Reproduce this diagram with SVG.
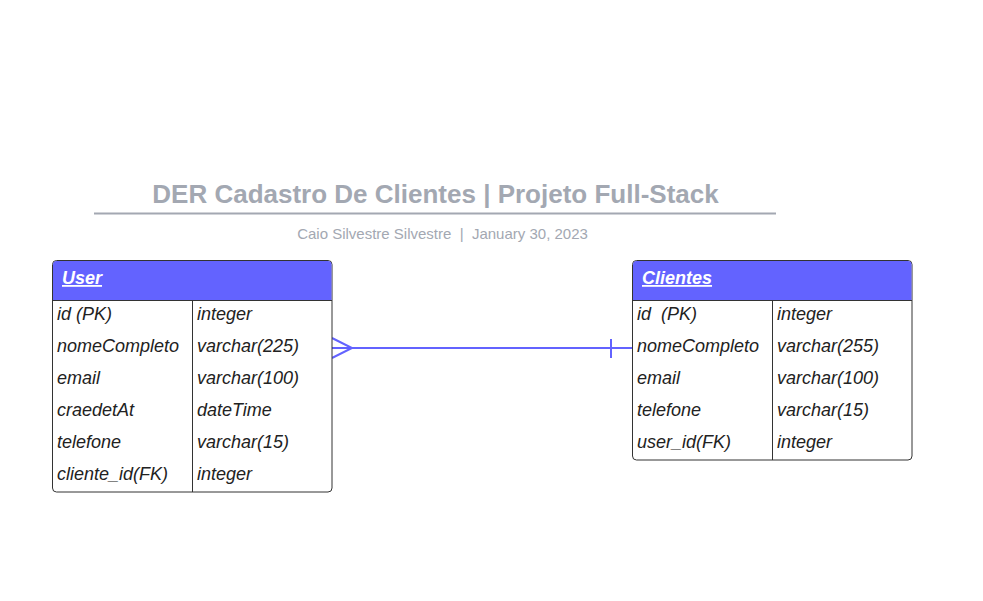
<svg xmlns="http://www.w3.org/2000/svg" width="983" height="601" viewBox="0 0 983 601">
<style>
.t{font-family:"Liberation Sans",Arial,sans-serif;font-style:italic;font-size:18px;fill:#222}
.h{font-family:"Liberation Sans",Arial,sans-serif;font-style:italic;font-weight:bold;font-size:18px;fill:#fff;text-decoration:underline}
.box{fill:#fff;stroke:#333;stroke-width:1}
.hd{fill:#6363ff}
.ln{stroke:#333;stroke-width:1}
.c{stroke:#6363ff;stroke-width:2;fill:none}
</style>
<rect width="983" height="601" fill="#fff"/>
<g id="title">
<text x="435.5" y="203" text-anchor="middle" font-family="Liberation Sans,Arial,sans-serif" font-weight="bold" font-size="26" fill="#a3a8b2">DER Cadastro De Clientes | Projeto Full-Stack</text>
<line x1="94" y1="213.5" x2="776" y2="213.5" stroke="#a3a8b2" stroke-width="2"/>
<text x="442.5" y="239" text-anchor="middle" font-family="Liberation Sans,Arial,sans-serif" font-size="15" fill="#a3a8b2" xml:space="preserve">Caio Silvestre Silvestre  |  January 30, 2023</text>
</g>
<g id="connectors">
<line class="c" x1="332" y1="348" x2="632" y2="348"/>
<polyline class="c" points="332,338 352,348 332,358"/>
<line class="c" x1="611" y1="339" x2="611" y2="358"/>
</g>
<g id="user">
<rect class="box" x="52.5" y="260.5" width="279.5" height="231.5" rx="4"/>
<path class="hd" d="M56.5,261 H328 Q331.5,261 331.5,264.5 V300 H53 V264.5 Q53,261 56.5,261 Z"/>
<line class="ln" x1="52.5" y1="300.5" x2="332" y2="300.5"/>
<line class="ln" x1="192.5" y1="300.5" x2="192.5" y2="492"/>
<text class="h" x="62" y="284">User</text>
<text class="t" x="57" y="320">id (PK)</text><text class="t" x="197" y="320">integer</text>
<text class="t" x="57" y="352">nomeCompleto</text><text class="t" x="197" y="352">varchar(225)</text>
<text class="t" x="57" y="384">email</text><text class="t" x="197" y="384">varchar(100)</text>
<text class="t" x="57" y="416">craedetAt</text><text class="t" x="197" y="416">dateTime</text>
<text class="t" x="57" y="448">telefone</text><text class="t" x="197" y="448">varchar(15)</text>
<text class="t" x="57" y="480">cliente_id(FK)</text><text class="t" x="197" y="480">integer</text>
</g>
<g id="clientes">
<rect class="box" x="632.5" y="260.5" width="279.5" height="199.5" rx="4"/>
<path class="hd" d="M636.5,261 H908 Q911.5,261 911.5,264.5 V300 H633 V264.5 Q633,261 636.5,261 Z"/>
<line class="ln" x1="632.5" y1="300.5" x2="912" y2="300.5"/>
<line class="ln" x1="772.5" y1="300.5" x2="772.5" y2="460"/>
<text class="h" x="642" y="284">Clientes</text>
<text class="t" x="637" y="320" xml:space="preserve">id  (PK)</text><text class="t" x="777" y="320">integer</text>
<text class="t" x="637" y="352">nomeCompleto</text><text class="t" x="777" y="352">varchar(255)</text>
<text class="t" x="637" y="384">email</text><text class="t" x="777" y="384">varchar(100)</text>
<text class="t" x="637" y="416">telefone</text><text class="t" x="777" y="416">varchar(15)</text>
<text class="t" x="637" y="448">user_id(FK)</text><text class="t" x="777" y="448">integer</text>
</g>
</svg>
